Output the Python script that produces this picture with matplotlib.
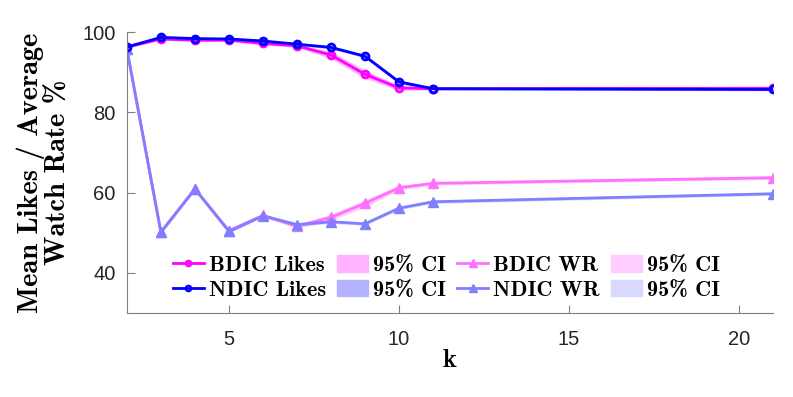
import numpy as np
import matplotlib.pyplot as plt
from matplotlib.patches import Patch
from matplotlib.lines import Line2D

plt.rcParams['font.family'] = ['Liberation Sans', 'DejaVu Sans']
bold_serif = ['cmb10', 'DejaVu Serif']

# number of clusters
k = [2, 3, 4, 5, 6, 7, 8, 9, 10, 11, 21]

# mean likes (%)
bdic_likes = [96.3, 98.3, 98.0, 98.0, 97.2, 96.6, 94.3, 89.5, 86.1, 85.9, 86.0]
ndic_likes = [96.3, 98.7, 98.4, 98.3, 97.8, 97.0, 96.2, 94.0, 87.6, 85.9, 85.7]
bdic_likes_ci = [0.3, 0.3, 0.3, 0.3, 0.4, 0.4, 0.9, 1.0, 0.6, 0.3, 0.3]
ndic_likes_ci = [0.3, 0.3, 0.3, 0.3, 0.3, 0.3, 0.4, 0.4, 0.5, 0.3, 0.3]

# average watch rate (%)
bdic_wr = [95.8, 50.1, 60.9, 50.5, 54.3, 51.6, 53.8, 57.3, 61.2, 62.3, 63.7]
ndic_wr = [95.8, 50.1, 60.9, 50.3, 54.2, 52.0, 52.7, 52.2, 56.1, 57.7, 59.7]
bdic_wr_ci = [0.4, 0.4, 0.4, 0.4, 0.4, 0.5, 0.8, 0.9, 0.6, 0.4, 0.4]
ndic_wr_ci = [0.4, 0.4, 0.4, 0.4, 0.4, 0.4, 0.4, 0.4, 0.4, 0.4, 0.4]

magenta = '#FF00FF'
blue = '#0000FF'
lmagenta = '#FF70FF'
lblue = '#7F7FFF'

fig = plt.figure(figsize=(7.93, 3.97), dpi=100)
ax = fig.add_axes([0.160, 0.212, 0.815, 0.707])

k_arr = np.array(k)

def band(y, ci, col, a):
    y = np.array(y)
    ci = np.array(ci)
    ax.fill_between(k_arr, y - ci, y + ci, color=col, alpha=a, linewidth=0)

band(bdic_likes, bdic_likes_ci, magenta, 0.3)
band(ndic_likes, ndic_likes_ci, blue, 0.3)
band(bdic_wr, bdic_wr_ci, magenta, 0.2)
band(ndic_wr, ndic_wr_ci, blue, 0.15)

ax.plot(k, bdic_wr, color=lmagenta, lw=2, marker='^', ms=7)
ax.plot(k, ndic_wr, color=lblue, lw=2, marker='^', ms=7)
ax.plot(k, bdic_likes, color=magenta, lw=2, marker='o', ms=5, mfc='none', mew=2)
ax.plot(k, ndic_likes, color=blue, lw=2, marker='o', ms=5, mfc='none', mew=2)

ax.set_xlim(2, 21)
ax.set_ylim(30, 100)
ax.set_xticks([5, 10, 15, 20])
ax.set_yticks([40, 60, 80, 100])
ax.spines['top'].set_visible(False)
ax.spines['right'].set_visible(False)
for s in ['left', 'bottom']:
    ax.spines[s].set_color('#808080')
ax.tick_params(direction='in', length=6, color='#808080', labelsize=14.5,
               labelcolor='#262626')
ax.tick_params(axis='x', pad=12)
ax.tick_params(axis='y', pad=8)

ax.set_xlabel('k', fontsize=19, labelpad=0, family=bold_serif)
ax.set_ylabel('Mean Likes / Average\nWatch Rate %',
              fontsize=20.5, linespacing=1.0, labelpad=8, family=bold_serif)

handles = [
    Line2D([], [], color=magenta, lw=2, marker='o', ms=4, mfc='none', mew=1.5),
    Line2D([], [], color=blue, lw=2, marker='o', ms=4, mfc='none', mew=1.5),
    Patch(color='#FFB3FF'),
    Patch(color='#B3B3FF'),
    Line2D([], [], color=lmagenta, lw=2, marker='^', ms=6),
    Line2D([], [], color=lblue, lw=2, marker='^', ms=6),
    Patch(color='#FFCCFF'),
    Patch(color='#D9D9FF'),
]
labels = ['BDIC Likes', 'NDIC Likes', '95% CI', '95% CI',
          'BDIC WR', 'NDIC WR', '95% CI', '95% CI']
ax.legend(handles, labels, ncol=4, loc='lower left', bbox_to_anchor=(0.071, 0.046),
          frameon=False, prop={'family': bold_serif, 'size': 16},
          handlelength=1.4, handleheight=0.77, handletextpad=0.22,
          columnspacing=0.5, labelspacing=0.22, borderpad=0, borderaxespad=0)

fig.savefig('out.png', dpi=100)
